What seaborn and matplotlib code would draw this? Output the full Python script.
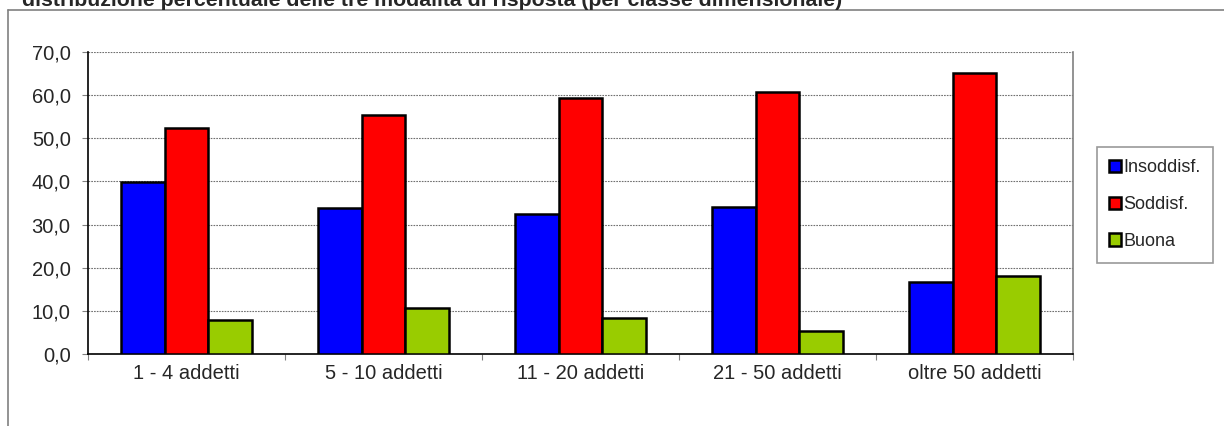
import pandas as pd
import matplotlib
matplotlib.use("Agg")
import matplotlib.pyplot as plt
import matplotlib.lines as mlines
from matplotlib.ticker import FuncFormatter, FixedLocator
import seaborn as sns

# ---- data ----
classi = ["1 - 4 addetti", "5 - 10 addetti", "11 - 20 addetti", "21 - 50 addetti", "oltre 50 addetti"]
risposte = ["Insoddisf.", "Soddisf.", "Buona"]
insoddisf = [39.9, 33.9, 32.5, 34.1, 16.6]
soddisf = [52.3, 55.4, 59.3, 60.7, 65.2]
buona = [7.9, 10.7, 8.3, 5.3, 18.1]
colori = ["#0000FF", "#FF0000", "#99CC00"]
titolo = "distribuzione percentuale delle tre modalità di risposta (per classe dimensionale)"

df = pd.DataFrame({
    "classe": classi * 3,
    "risposta": [r for r in risposte for _ in classi],
    "valore": insoddisf + soddisf + buona,
})

sns.set_style("white")
plt.rcParams["font.family"] = ["Liberation Sans", "DejaVu Sans"]

fig = plt.figure(figsize=(12.24, 4.26), dpi=100)
ax = fig.add_axes([88 / 1224, 72 / 426, 985 / 1224, 302 / 426])

sns.barplot(data=df, x="classe", y="valore", hue="risposta", order=classi,
            hue_order=risposte, palette=colori, width=0.67, saturation=1,
            edgecolor="black", linewidth=1.8, ax=ax, zorder=3)

ax.set_xlim(-0.5, len(classi) - 0.5)
ax.set_ylim(0, 70)
ax.set_yticks(range(0, 71, 10))
ax.yaxis.set_major_formatter(FuncFormatter(lambda v, p: f"{v:.1f}".replace(".", ",")))
ax.set_xlabel("")
ax.set_ylabel("")

ax.yaxis.grid(True, color="#707070", linestyle=(0, (1.5, 1)), linewidth=0.8, zorder=0)
ax.set_axisbelow(True)

ax.tick_params(axis="y", which="major", left=True, length=4.5, width=0.8,
               color="#808080", pad=8, labelsize=14.5)
ax.tick_params(axis="x", which="major", bottom=False, length=0, pad=7, labelsize=14.5)
ax.xaxis.set_minor_locator(FixedLocator([i - 0.5 for i in range(len(classi) + 1)]))
ax.tick_params(axis="x", which="minor", bottom=True, length=4.5, width=0.8, color="#808080")

for s in ["left", "bottom"]:
    ax.spines[s].set_color("black")
    ax.spines[s].set_linewidth(1.2)
ax.spines["top"].set_visible(False)
ax.spines["right"].set_color("#808080")
ax.spines["right"].set_linewidth(1.2)

handles, labels = ax.get_legend_handles_labels()
leg = ax.legend(handles, labels, loc="center", bbox_to_anchor=(1155 / 1224, 1 - 204.5 / 426),
                bbox_transform=fig.transFigure, fontsize=13, frameon=True, fancybox=False,
                edgecolor="#808080", labelspacing=1.1, handlelength=0.65, handleheight=0.65,
                handletextpad=0.15, borderpad=0.7)
leg.get_frame().set_linewidth(1.2)

# outer chart frame (only left and top edges are visible in the crop)
fig.add_artist(mlines.Line2D([8 / 1224, 8 / 1224], [0, 1 - 10 / 426], color="#808080",
                             linewidth=1.2, transform=fig.transFigure))
fig.add_artist(mlines.Line2D([8 / 1224, 1], [1 - 10 / 426, 1 - 10 / 426], color="#808080",
                             linewidth=1.2, transform=fig.transFigure))

fig.text(22 / 1224, 1 - 6 / 426, titolo, fontsize=15.3, fontweight="bold", va="baseline", ha="left")

fig.savefig("out.png", dpi=100)
